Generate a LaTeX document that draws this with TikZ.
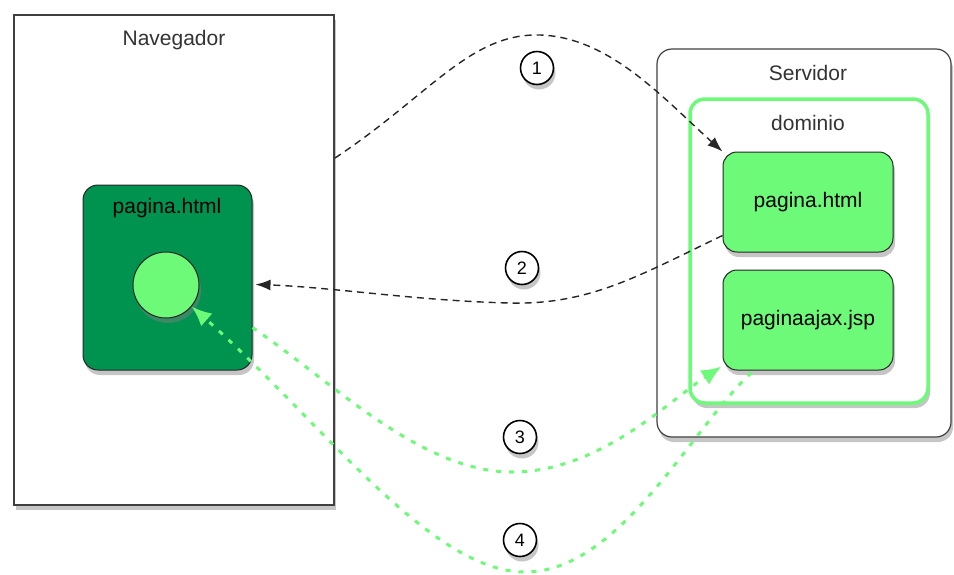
\documentclass[tikz,border=0pt]{standalone}
\usepackage{fontspec}
\setmainfont{Liberation Sans}
\usetikzlibrary{arrows.meta,shadows}
\definecolor{darkgreen}{HTML}{00934F}
\definecolor{lightgreen}{HTML}{6CFA78}
\definecolor{textgray}{HTML}{333333}

\begin{document}
\begin{tikzpicture}[x=1pt, y=-1pt, font=\fontsize{21}{25}\selectfont,
  boxshadow/.style={drop shadow={opacity=.45,shadow xshift=2pt,shadow yshift=-5pt}},
  frame/.style={draw=black!75, line width=1.2pt, fill=white, boxshadow},
  page/.style={draw=black!85, line width=1pt, rounded corners=14pt, fill=lightgreen,
    minimum width=170pt, minimum height=100pt, boxshadow},
  num/.style={circle, draw=black, line width=1.6pt, fill=white, minimum size=33pt,
    inner sep=0pt, font=\fontsize{18}{20}\selectfont, boxshadow},
  req/.style={-{Latex[length=15pt,width=11pt]}, line width=1.4pt, dash pattern=on 7pt off 5pt, black!85},
  ajax/.style={-{Latex[length=20pt,width=17pt]}, line width=3pt, dash pattern=on 5pt off 8pt, lightgreen}]
  \useasboundingbox (0,0) rectangle (954,574);
  % Navegador
  \node[frame, minimum width=320pt, minimum height=490pt] (nav) at (174,260) {};
  \node[textgray] (navtitle) at (174,40) {Navegador};
  \node[draw=black!85, line width=1pt, rounded corners=15pt, fill=darkgreen,
    minimum width=169pt, minimum height=185pt, boxshadow] (pagnav) at (167.5,277.5) {};
  \node (pagnavtitle) at (167,208) {pagina.html};
  \node[circle, draw=black!85, line width=1pt, fill=lightgreen, minimum size=66pt, boxshadow] (dot) at (166,285) {};
  % Servidor
  \node[frame, rounded corners=15pt, minimum width=294pt, minimum height=388pt] (srv) at (804,243) {};
  \node[textgray] (srvtitle) at (808,73) {Servidor};
  \node[draw=lightgreen, line width=3.5pt, fill=white, rounded corners=15pt,
    minimum width=238pt, minimum height=304pt, boxshadow] (dom) at (809,251) {};
  \node[textgray] (domtitle) at (808,123) {dominio};
  \node[page] (pagsrv) at (808,202) {pagina.html};
  \node[page] (jsp) at (808,320) {paginaajax.jsp};
  % peticiones
  \coordinate (navout) at (335,158);
  \draw[req] (navout) .. controls (430,95) and (470,33) .. (540,35)
    .. controls (610,37) and (665,100) .. (pagsrv.north west);
  \draw[req] ([yshift=17pt]pagsrv.south west) .. controls (640,275) and (590,305) .. (510,303)
    .. controls (420,301) and (330,287) .. ([xshift=3pt,yshift=-7pt]pagnav.east);
  \draw[ajax] ([yshift=-50pt]pagnav.east) .. controls (330,380) and (420,472) .. (512,472)
    .. controls (600,472) and (670,400) .. ([xshift=-1pt,yshift=4pt]jsp.south west);
  \draw[ajax] ([xshift=29pt,yshift=-2pt]jsp.south west) .. controls (690,430) and (620,572) .. (525,572)
    .. controls (430,572) and (320,420) .. (dot.-40);
  % numeros
  \node[num] (n1) at (537,68) {1};
  \node[num] (n2) at (522,268) {2};
  \node[num] (n3) at (520,437) {3};
  \node[num] (n4) at (520,540) {4};
\end{tikzpicture}
\end{document}
